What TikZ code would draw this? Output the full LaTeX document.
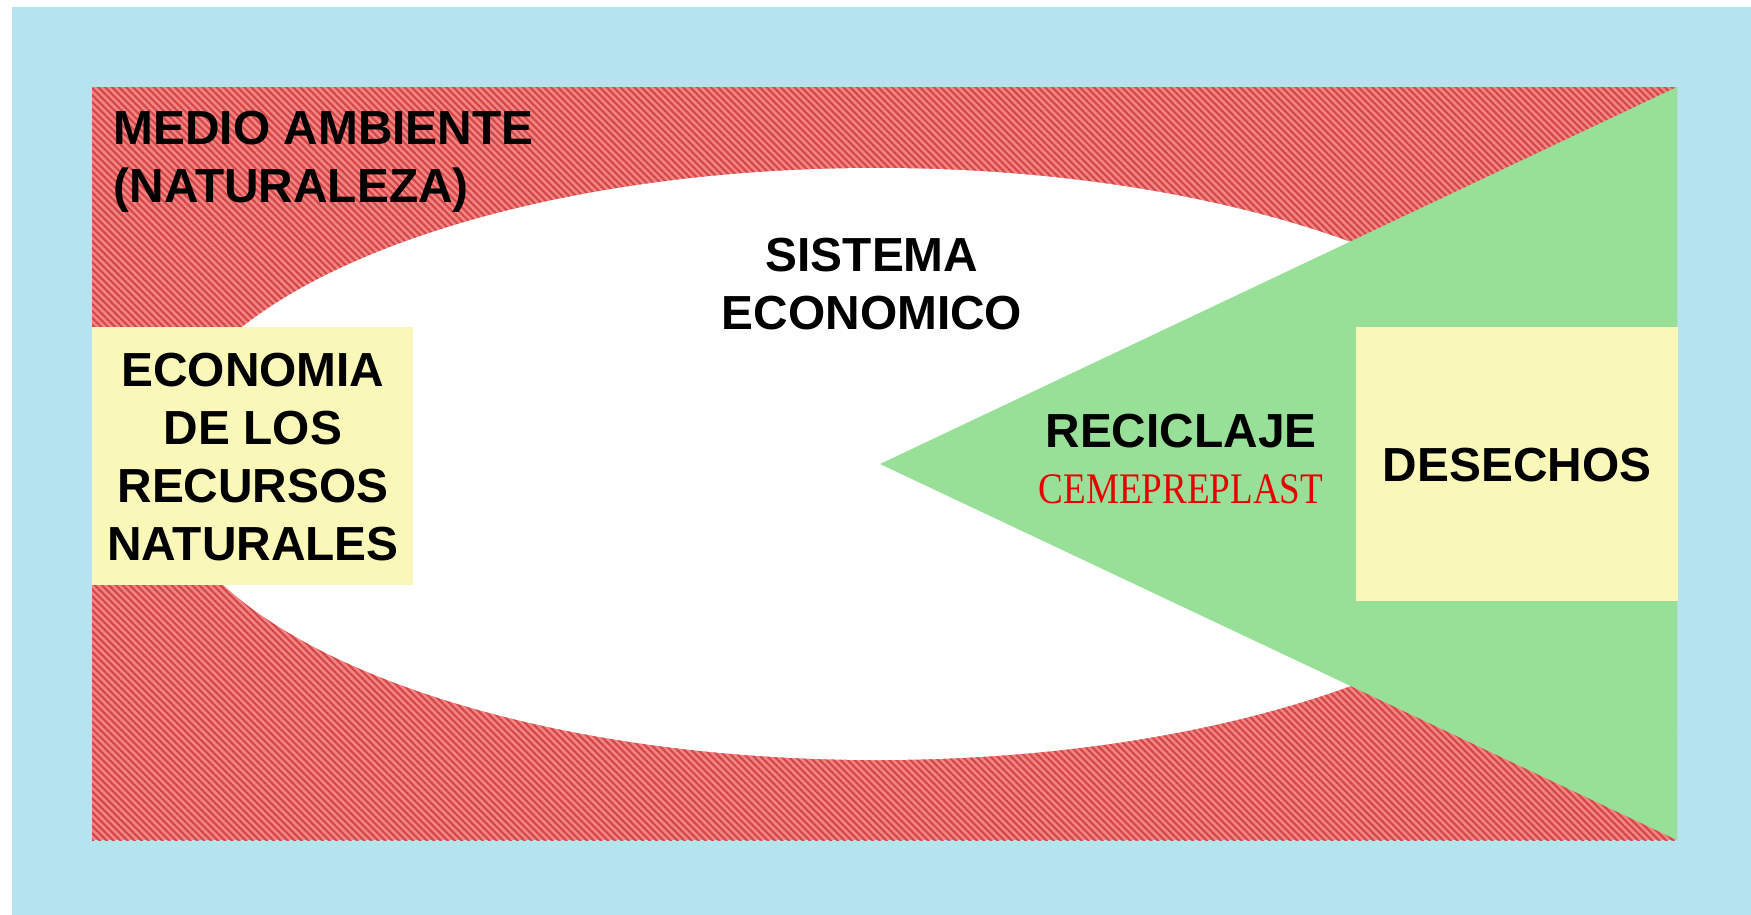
\documentclass[tikz,border=0pt]{standalone}
\usepackage{fontspec}
\setmainfont{Liberation Sans}
\newfontfamily\serifa{Liberation Serif}
\usetikzlibrary{patterns.meta}

\definecolor{agua}{RGB}{182,228,238}
\definecolor{rojo}{RGB}{242,132,132}
\definecolor{rojoraya}{RGB}{212,70,70}
\definecolor{verde}{RGB}{152,224,152}
\definecolor{amarillo}{RGB}{250,248,184}
\definecolor{rojotexto}{RGB}{232,0,0}

\tikzset{
  titulo/.style={font=\fontsize{13.6}{16.5}\selectfont\bfseries, align=center, inner sep=0pt},
  marca/.style={font=\fontsize{12.4}{14}\serifa, text=rojotexto, inner sep=0pt},
  caja/.style={fill=amarillo},
}

\begin{document}
\begin{tikzpicture}[x=0.01cm,y=-0.01cm]
\useasboundingbox (0,0) rectangle (1751,915);

% fondo y medio ambiente
\fill[agua] (12,7) rectangle (1751,915);
\fill[rojo] (92,87) rectangle (1677,840);
\pattern[pattern={Lines[angle=-45,distance=1.4pt,line width=0.6pt]}, pattern color=rojoraya] (92,87) rectangle (1677,840);

% sistema economico
\fill[white] (877,464) ellipse [x radius=716, y radius=296];

% reciclaje
\fill[verde] (880,464) -- (1677,87) -- (1677,840) -- cycle;

% cajas
\fill[caja] (92,327) rectangle (413,585);
\fill[caja] (1356,327) rectangle (1678,601);

\node[titulo, align=left, anchor=west] (medio) at (113,162) {MEDIO AMBIENTE\\(NATURALEZA)};
\node[titulo] (sistema) at (872,284) {SISTEMA\\ECONOMICO};
\node[titulo] (economia) at (253,457) {ECONOMIA\\DE LOS\\RECURSOS\\NATURALES};
\node[titulo] (reciclaje) at (1181,431) {RECICLAJE};
\node[marca] (cemepreplast) at (1181,489) {\scalebox{0.85}[1]{CEMEPREPLAST}};
\node[titulo] (desechos) at (1517,465) {DESECHOS};
\end{tikzpicture}
\end{document}
